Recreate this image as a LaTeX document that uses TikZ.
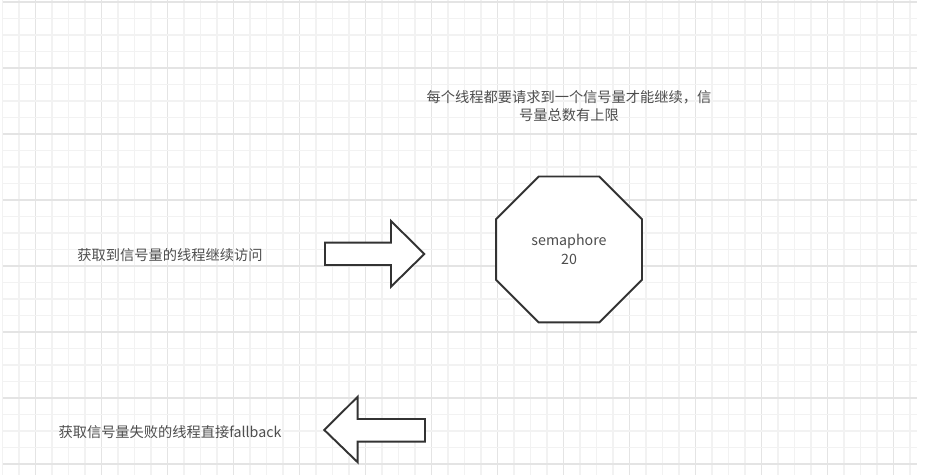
\documentclass[tikz,border=0pt]{standalone}
\usepackage{fontspec}
\usepackage{tikz}
\usetikzlibrary{shapes.geometric}
\newfontfamily\cjk{Noto Sans CJK SC}
\definecolor{inkgray}{HTML}{333333}
\definecolor{textgray}{HTML}{4D4D4D}
\definecolor{minorgrid}{HTML}{F2F2F2}
\definecolor{majorgrid}{HTML}{E4E4E4}
\tikzset{note/.style = {font=\cjk\fontsize{8.1pt}{10.4pt}\selectfont,
                        text=textgray, align=center, inner sep=0pt},
         blockarrow/.style = {draw=inkgray, line width=1.1pt, fill=white,
                              line join=miter}}

\begin{document}
\begin{tikzpicture}[x=0.02cm, y=-0.02cm]
      \useasboundingbox (0, 0) rectangle (926, 475);
      % grid
      \foreach \k in {0, ..., 55} {
        \pgfmathsetmacro{\gx}{2.5 + 16.5*\k}
        \pgfmathtruncatemacro{\m}{mod(\k, 4)}
        \ifnum\m=2
          \draw [majorgrid, line width=0.6pt] (\gx, 0) -- (\gx, 475);
        \else
          \draw [minorgrid, line width=0.6pt] (\gx, 0) -- (\gx, 475);
        \fi
      }
      \foreach \k in {0, ..., 28} {
        \pgfmathsetmacro{\gy}{2 + 16.5*\k}
        \pgfmathtruncatemacro{\m}{mod(\k, 4)}
        \ifnum\m=0
          \draw [majorgrid, line width=0.6pt] (3, \gy) -- (917, \gy);
        \else
          \draw [minorgrid, line width=0.6pt] (3, \gy) -- (917, \gy);
        \fi
      }
      % semaphore
      \node [regular polygon, regular polygon sides = 8, minimum size = 3.16cm,
             draw = inkgray, line width = 1.1pt, fill = white, note] (sem)
            at (569, 249.5) {semaphore\\20};
      \node [note] (rule) at (569, 106) {每个线程都要请求到一个信号量才能继续，信\\号量总数有上限};
      % passing threads
      \node [note] (pass) at (170, 255) {获取到信号量的线程继续访问};
      \draw [blockarrow] (325, 242.7) -- (391, 242.7) -- (391, 221) -- (424.3, 254)
            -- (391, 286.7) -- (391, 265) -- (325, 265) -- cycle;
      % failing threads
      \node [note] (fail) at (170, 431.7) {获取信号量失败的线程直接fallback};
      \draw [blockarrow] (425, 419) -- (357.7, 419) -- (357.7, 396.7) -- (324.3, 430)
            -- (357.7, 462.3) -- (357.7, 441.7) -- (425, 441.7) -- cycle;
    \end{tikzpicture}
\end{document}
